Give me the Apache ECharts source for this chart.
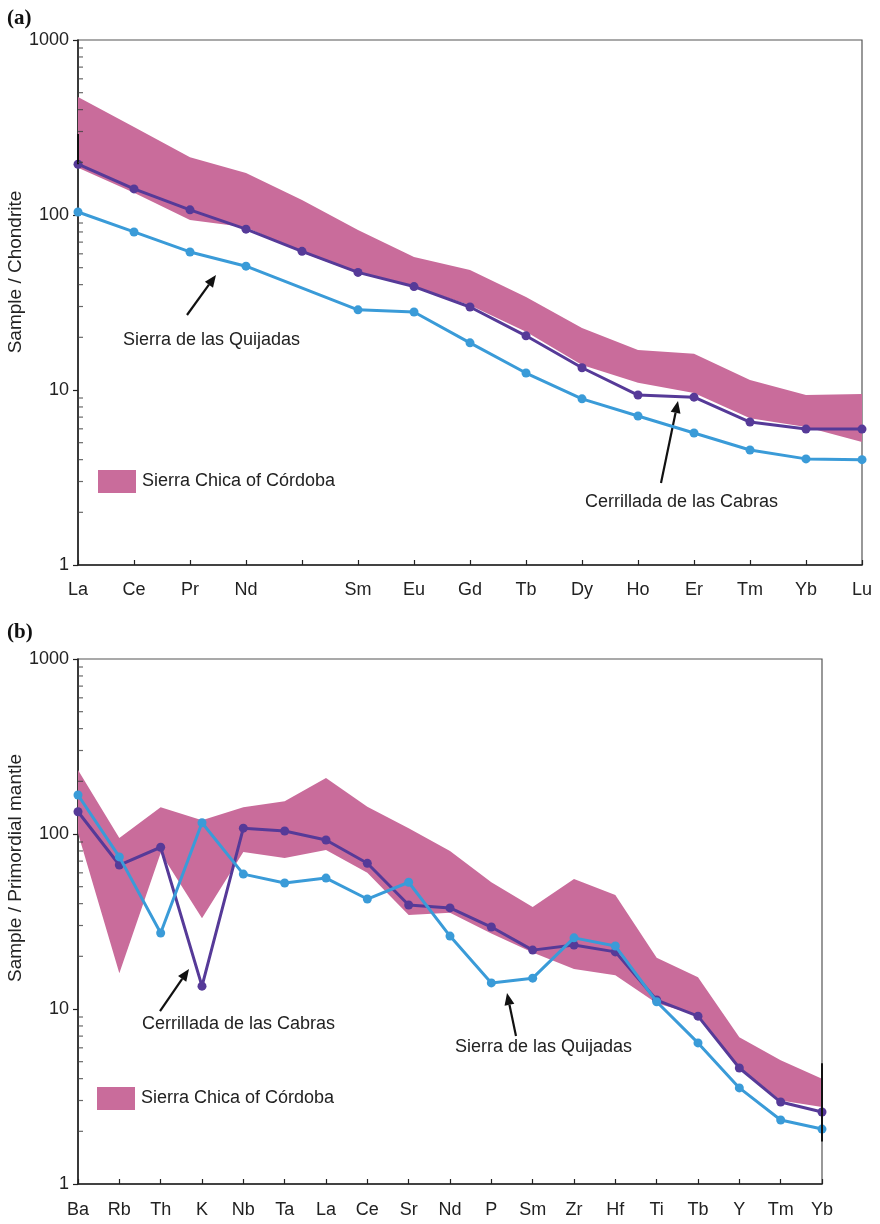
<!DOCTYPE html>
<html>
<head>
<meta charset="utf-8">
<script src="https://cdn.jsdelivr.net/npm/echarts@6/dist/echarts.min.js"></script>
<style>
html,body{margin:0;padding:0;background:#fff;}
#c{width:880px;height:1224px;}
</style>
</head>
<body>
<div id="c"></div>
<script>
// ---------- data: panel (a) chondrite-normalised REE ----------
const catsA = ['La','Ce','Pr','Nd','','Sm','Eu','Gd','Tb','Dy','Ho','Er','Tm','Yb','Lu'];
const cerrilladaA = [195,141,107,83,62,47,39,29.8,20.4,13.4,9.36,9.1,6.56,5.98,5.98];
const quijadasA   = [104,80,61.5,51,null,28.7,27.9,18.6,12.5,8.9,7.1,5.68,4.54,4.04,4.0];
const chicaUpperA = [472,318,214,174,122,82,57.5,48.5,34,22.6,16.9,16.1,11.4,9.36,9.5];
const chicaLowerA = [186,134,93.6,85,61,46.5,39,30.5,21.5,13.9,11,9.6,6.9,6.15,5.05];
const rangeBarA   = [['La',290],['La',195]];

// ---------- data: panel (b) primordial-mantle-normalised ----------
const catsB = ['Ba','Rb','Th','K','Nb','Ta','La','Ce','Sr','Nd','P','Sm','Zr','Hf','Ti','Tb','Y','Tm','Yb'];
const cerrilladaB = [134,66.5,84,13.5,108,104,92.4,68,39.3,37.8,29.4,21.7,23.2,21.2,11.25,9.1,4.6,2.94,2.58];
const quijadasB   = [167,74,27.2,116,59,52.5,56,42.5,53,26.1,14.1,15.0,25.5,22.9,11.0,6.4,3.54,2.32,2.06];
const chicaUpperB = [232,95,142,120,142,154,209,143,108,80,53,38.3,55.3,44.8,19.6,15.2,6.9,5.1,4.0];
const chicaLowerB = [101,16,78,33,79,73,81,60,34.4,35.5,27,21,16.9,15.6,10.8,9.2,4.66,3.0,2.75];
const rangeBarB   = [['Yb',4.9],['Yb',1.75]];

// ---------- axis ticks ----------
const yMajor = [1,10,100,1000];
const yMinor = [2,3,4,5,6,7,8,9,20,30,40,50,60,70,80,90,200,300,400,500,600,700,800,900];

const PINK = '#C96C9B', PURPLE = '#563A98', BLUE = '#3A9BD8', INK = '#222';
const FONT = 'Liberation Sans';

const chart = echarts.init(document.getElementById('c'), null, {renderer:'canvas'});

function diff(up, lo){ return up.map((v,i)=> +(v - lo[i]).toFixed(3)); }

function xAxis(idx, cats, margin){
  return {
    type:'category', gridIndex:idx, data:cats, boundaryGap:false,
    axisLine:{lineStyle:{color:INK, width:1.6}},
    axisTick:{show:true, inside:true, length:5, interval:0, lineStyle:{color:INK, width:1.2}},
    axisLabel:{interval:0, margin:margin, fontFamily:FONT, fontSize:18, color:INK},
    splitLine:{show:false}
  };
}
function yAxis(idx){
  return {
    type:'log', logBase:10, gridIndex:idx, min:yMajor[0], max:yMajor[yMajor.length-1],
    axisLine:{show:true, lineStyle:{color:INK, width:1.6}},
    axisTick:{show:true, inside:false, length:5, lineStyle:{color:INK, width:1.2}},
    axisLabel:{margin:9, fontFamily:FONT, fontSize:18, color:INK, formatter:v=>String(Math.round(v))},
    splitLine:{show:false}, minorTick:{show:false}
  };
}
function series(idx, cats, up, lo, cer, qui, bar, stackName){
  return [
    {type:'line', name:'_lower'+idx, xAxisIndex:idx, yAxisIndex:idx, stack:stackName,
     data:lo, symbol:'none', lineStyle:{width:0, opacity:0}, silent:true, z:1},
    {type:'line', name:'Sierra Chica of Córdoba', xAxisIndex:idx, yAxisIndex:idx, stack:stackName,
     data:diff(up, lo), symbol:'none', lineStyle:{width:0, opacity:0},
     itemStyle:{color:PINK}, areaStyle:{color:PINK, opacity:1}, silent:true, z:1},
    {type:'line', name:'Cerrillada de las Cabras', xAxisIndex:idx, yAxisIndex:idx,
     data:cer, symbol:'circle', symbolSize:9, connectNulls:true,
     lineStyle:{color:PURPLE, width:3}, itemStyle:{color:PURPLE}, z:3,
     markLine:{silent:true, symbol:'none', label:{show:false},
       lineStyle:{color:'#111', width:2, type:'solid'},
       data:[[{coord:bar[0]},{coord:bar[1]}]]}},
    {type:'line', name:'Sierra de las Quijadas', xAxisIndex:idx, yAxisIndex:idx,
     data:qui, symbol:'circle', symbolSize:9, connectNulls:true,
     lineStyle:{color:BLUE, width:3}, itemStyle:{color:BLUE}, z:4},
    {type:'scatter', name:'_minor'+idx, xAxisIndex:idx, yAxisIndex:idx,
     data:yMinor.map(v=>[cats[0], v]), symbol:'rect', symbolSize:[5,1.2], symbolOffset:[2.5,0],
     itemStyle:{color:'#444'}, silent:true, z:5}
  ];
}

// ---------- annotations ----------
function arrow(x1,y1,x2,y2){
  const a = Math.atan2(y2-y1, x2-x1), L = 12, W = 5;
  const c = Math.cos(a), s = Math.sin(a);
  const bx = x2 - L*c, by = y2 - L*s;
  return [
    {type:'line', shape:{x1:x1,y1:y1,x2:bx,y2:by}, style:{stroke:'#111', lineWidth:2.2}},
    {type:'polygon', shape:{points:[[x2,y2],[bx+W*s,by-W*c],[bx-W*s,by+W*c]]}, style:{fill:'#111'}}
  ];
}
function label(text, x, y){
  return {type:'text', x:x, y:y, style:{text:text, font:'18px "'+FONT+'"', fill:INK, verticalAlign:'middle', align:'left'}};
}
function vtitle(text, x, y){
  return {type:'text', x:x, y:y, rotation:Math.PI/2,
    style:{text:text, font:'19px "'+FONT+'"', fill:INK, verticalAlign:'middle', align:'center'}};
}
const graphics = [].concat(
  [{type:'text', x:7, y:19, style:{text:'(a)', font:'bold 21px "Liberation Serif"', fill:'#111', verticalAlign:'middle'}}],
  [{type:'text', x:7, y:633, style:{text:'(b)', font:'bold 21px "Liberation Serif"', fill:'#111', verticalAlign:'middle'}}],
  [vtitle('Sample / Chondrite', 16, 272)],
  [vtitle('Sample / Primordial mantle', 16, 868)],
  arrow(187,315,216,275), [label('Sierra de las Quijadas', 123, 340)],
  arrow(661,483,678,401), [label('Cerrillada de las Cabras', 585, 502)],
  arrow(160,1011,189,969), [label('Cerrillada de las Cabras', 142, 1024)],
  arrow(516,1036,507,993), [label('Sierra de las Quijadas', 455, 1047)]
);

const option = {
  animation:false,
  backgroundColor:'#fff',
  grid:[
    {left:78, top:40, width:784, height:525, show:true, borderColor:'#555', borderWidth:1.2, backgroundColor:'transparent'},
    {left:78, top:659, width:744, height:525, show:true, borderColor:'#555', borderWidth:1.2, backgroundColor:'transparent'}
  ],
  xAxis:[xAxis(0, catsA, 16), xAxis(1, catsB, 17)],
  yAxis:[yAxis(0), yAxis(1)],
  legend:[
    {left:98, top:470, padding:0, itemWidth:38, itemHeight:23, itemGap:0, icon:'rect', selectedMode:false,
     data:['Sierra Chica of Córdoba'], textStyle:{fontFamily:FONT, fontSize:18, color:INK, padding:[0,0,0,1]}},
    {left:97, top:1087, padding:0, itemWidth:38, itemHeight:23, itemGap:0, icon:'rect', selectedMode:false,
     data:['Sierra Chica of Córdoba'], textStyle:{fontFamily:FONT, fontSize:18, color:INK, padding:[0,0,0,1]}}
  ],
  series:[].concat(
    series(0, catsA, chicaUpperA, chicaLowerA, cerrilladaA, quijadasA, rangeBarA, 'bandA'),
    series(1, catsB, chicaUpperB, chicaLowerB, cerrilladaB, quijadasB, rangeBarB, 'bandB')
  ),
  graphic:graphics
};
chart.setOption(option);
</script>
</body>
</html>
